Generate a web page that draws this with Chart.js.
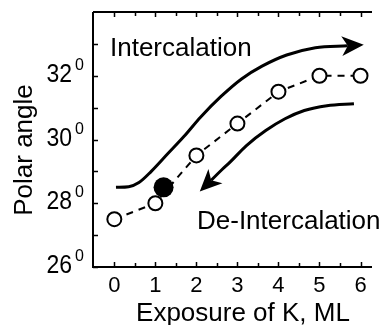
<!DOCTYPE html>
<html>
<head>
<meta charset="utf-8">
<script src="https://cdn.jsdelivr.net/npm/chart.js@4.4.0/dist/chart.umd.min.js"></script>
<style>
  html, body { margin: 0; padding: 0; background: #fff; overflow: hidden; }
  canvas { display: block; }
</style>
</head>
<body>
<canvas id="chart" width="382" height="325"></canvas>
<script>
// Polar angle versus K exposure
const exposure   = [0, 1, 2, 3, 4, 5, 6];
const polarAngle = [27.5, 28, 29.5, 30.5, 31.5, 32, 32];

// single filled marker
const markedExposure = [1.2];
const markedAngle    = [28.5];

// guide arrow paths
// upper path: the last point is the base of its arrowhead
const intercalX   = [0.04, 0.35, 0.6, 0.9, 1.3, 1.7, 2.1, 2.6, 3.1, 3.6, 4.2, 4.9, 5.69];
const intercalY   = [28.5, 28.52, 28.65, 29.0, 29.55, 30.1, 30.7, 31.35, 31.9, 32.3, 32.65, 32.88, 32.94];
// lower path: the first point is the base of its arrowhead
const deintercalX = [2.36, 2.62, 2.82, 3.22, 3.69, 4.16, 4.63, 5.18, 5.84];
const deintercalY = [28.72, 29.05, 29.29, 29.81, 30.28, 30.65, 30.91, 31.06, 31.12];

// axes
const xTicks      = [0, 1, 2, 3, 4, 5, 6];
const xMinorTicks = [0.5, 1.5, 2.5, 3.5, 4.5, 5.5];
const yTicks      = [26, 28, 30, 32];
const yMinorTicks = [27, 29, 31, 33];
const xTitle = 'Exposure of K, ML';
const yTitle = 'Polar angle';
const upLabel = 'Intercalation';
const downLabel = 'De-Intercalation';

const FONT = '"Liberation Sans", Arial, Helvetica, sans-serif';
const toPoints = (xs, ys) => xs.map((x, i) => ({ x, y: ys[i] }));

function arrowHead(ctx, from, base) {
  const dx = base.x - from.x, dy = base.y - from.y;
  const len = Math.hypot(dx, dy) || 1;
  const ux = dx / len, uy = dy / len;
  const nx = -uy, ny = ux;
  const tip = { x: base.x + ux * 16, y: base.y + uy * 16 };
  const back = 6, half = 10;
  ctx.beginPath();
  ctx.moveTo(tip.x, tip.y);
  ctx.lineTo(base.x - ux * back + nx * half, base.y - uy * back + ny * half);
  ctx.lineTo(base.x, base.y);
  ctx.lineTo(base.x - ux * back - nx * half, base.y - uy * back - ny * half);
  ctx.closePath();
  ctx.fillStyle = '#000';
  ctx.fill();
}

const frame = {
  id: 'frame',
  afterDatasetsDraw(chart) {
    const ctx = chart.ctx;
    const xs = chart.scales.x, ys = chart.scales.y;
    const px = (x, y) => ({ x: xs.getPixelForValue(x), y: ys.getPixelForValue(y) });
    ctx.save();
    const n = intercalX.length;
    arrowHead(ctx, px(intercalX[n - 2], intercalY[n - 2]), px(intercalX[n - 1], intercalY[n - 1]));
    arrowHead(ctx, px(deintercalX[1], deintercalY[1]), px(deintercalX[0], deintercalY[0]));
    ctx.restore();
  },
  afterDraw(chart) {
    const ctx = chart.ctx;
    const a = chart.chartArea;
    const xs = chart.scales.x, ys = chart.scales.y;
    ctx.save();
    ctx.strokeStyle = '#000';
    ctx.fillStyle = '#000';

    // frame: left, bottom, top
    ctx.lineWidth = 2;
    ctx.beginPath();
    ctx.moveTo(a.left, a.top);
    ctx.lineTo(a.left, a.bottom);
    ctx.lineTo(a.right, a.bottom);
    ctx.moveTo(a.left, a.top);
    ctx.lineTo(a.right, a.top);
    ctx.stroke();

    // inward ticks
    ctx.lineWidth = 1.5;
    ctx.beginPath();
    const xt = (v, L) => {
      const p = Math.round(xs.getPixelForValue(v)) + 0.5;
      ctx.moveTo(p, a.bottom); ctx.lineTo(p, a.bottom - L);
      ctx.moveTo(p, a.top); ctx.lineTo(p, a.top + L);
    };
    const yt = (v, L) => {
      const p = Math.round(ys.getPixelForValue(v)) + 0.5;
      ctx.moveTo(a.left, p); ctx.lineTo(a.left + L, p);
    };
    xTicks.forEach(v => xt(v, 5));
    xMinorTicks.forEach(v => xt(v, 4));
    yTicks.forEach(v => yt(v, 5));
    yMinorTicks.forEach(v => yt(v, 5));
    ctx.stroke();

    // x tick labels
    ctx.font = '22px ' + FONT;
    ctx.textAlign = 'center';
    ctx.textBaseline = 'alphabetic';
    xTicks.forEach(v => ctx.fillText(String(v), xs.getPixelForValue(v), 292));

    // y tick labels with degree superscript
    yTicks.forEach(v => {
      const p = ys.getPixelForValue(v);
      ctx.save();
      ctx.translate(72, p + 6);
      ctx.scale(1, 1.15);
      ctx.font = '23px ' + FONT;
      ctx.textAlign = 'right';
      ctx.fillText(String(v), 0, 0);
      ctx.restore();
      ctx.font = '16px ' + FONT;
      ctx.textAlign = 'left';
      ctx.fillText('0', 75, p - 6);
    });

    // axis titles
    ctx.font = '26px ' + FONT;
    ctx.textAlign = 'center';
    ctx.fillText(xTitle, 243, 321);
    ctx.save();
    ctx.translate(32, 150);
    ctx.rotate(-Math.PI / 2);
    ctx.fillText(yTitle, 0, 0);
    ctx.restore();

    // arrow captions
    ctx.textAlign = 'left';
    ctx.fillText(upLabel, 110, 56);
    ctx.fillText(downLabel, 197, 229);
    ctx.restore();
  }
};

new Chart(document.getElementById('chart'), {
  type: 'line',
  data: {
    datasets: [
      {
        data: toPoints(intercalX, intercalY),
        borderColor: '#000',
        borderWidth: 3,
        pointRadius: 0,
        cubicInterpolationMode: 'monotone',
        fill: false,
        order: 3
      },
      {
        data: toPoints(deintercalX, deintercalY),
        borderColor: '#000',
        borderWidth: 3,
        pointRadius: 0,
        cubicInterpolationMode: 'monotone',
        fill: false,
        order: 3
      },
      {
        data: toPoints(exposure, polarAngle),
        borderColor: '#000',
        borderWidth: 2,
        borderDash: [7, 6],
        pointRadius: 7,
        pointBorderWidth: 2,
        pointBackgroundColor: '#fff',
        pointBorderColor: '#000',
        tension: 0,
        fill: false,
        order: 2
      },
      {
        data: toPoints(markedExposure, markedAngle),
        showLine: false,
        pointRadius: 10,
        pointBorderWidth: 0,
        pointBackgroundColor: '#000',
        pointBorderColor: '#000',
        order: 1
      }
    ]
  },
  options: {
    responsive: false,
    animation: false,
    events: [],
    layout: { padding: { left: 93, top: 12, right: 0, bottom: 58 } },
    plugins: { legend: { display: false }, tooltip: { enabled: false } },
    scales: {
      x: { type: 'linear', min: -0.52, max: 6.28, display: false },
      y: { type: 'linear', min: 26, max: 34, display: false }
    }
  },
  plugins: [frame]
});
</script>
</body>
</html>
